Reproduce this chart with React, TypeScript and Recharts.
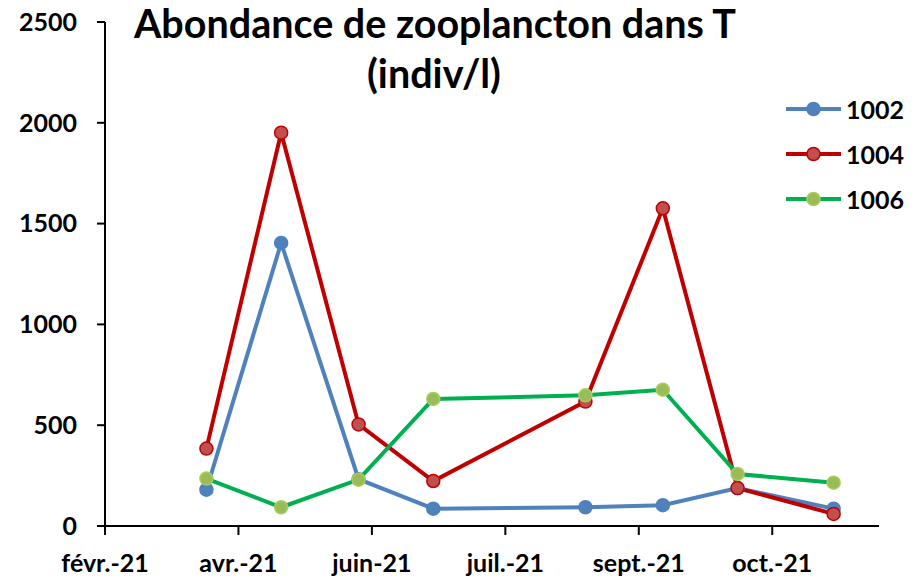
import { LineChart, Line, XAxis, YAxis } from "recharts";

const SAMPLE_DATES = [
  "2021-04-01",
  "2021-04-29",
  "2021-05-28",
  "2021-06-25",
  "2021-08-21",
  "2021-09-19",
  "2021-10-17",
  "2021-11-22",
];
const S1002 = [180, 1404, 232, 86, 93, 103, 188, 86];
const S1004 = [384, 1951, 504, 223, 617, 1576, 188, 60];
const S1006 = [235, 93, 230, 630, 648, 676, 258, 215];

const TICK_DATES = ["2021-02-22", "2021-04-13", "2021-06-02", "2021-07-22", "2021-09-10", "2021-10-30"];
const TICK_LABELS = ["févr.-21", "avr.-21", "juin-21", "juil.-21", "sept.-21", "oct.-21"];
const X_END = "2021-12-09";
const Y_TICKS = [0, 500, 1000, 1500, 2000, 2500];

const FONT = "Lato, 'Open Sans', sans-serif";

// day of year
const toDay = (s: string) => (Date.parse(s) - Date.parse("2021-01-01")) / 86400000 + 1;

const data = SAMPLE_DATES.map((d, i) => ({
  day: toDay(d),
  s1002: S1002[i],
  s1004: S1004[i],
  s1006: S1006[i],
}));

const tickDays = TICK_DATES.map(toDay);
const labelFor = (v: number) => TICK_LABELS[tickDays.indexOf(v)] ?? "";

const SERIES = [
  { key: "s1002", name: "1002", line: "#4F81BD", fill: "#4F81BD", edge: "#4F81BD" },
  { key: "s1004", name: "1004", line: "#C00000", fill: "#C0504D", edge: "#C00000" },
  { key: "s1006", name: "1006", line: "#00B050", fill: "#9BBB59", edge: "#A6CF5E" },
];

function ChartLegend() {
  return (
    <div style={{ position: "absolute", left: 786, top: 86.5, fontFamily: FONT }}>
      {SERIES.map((s) => (
        <div key={s.key} style={{ display: "flex", alignItems: "center", height: 45 }}>
          <svg width={55} height={20} style={{ display: "block" }}>
            <line x1={0} x2={55} y1={10} y2={10} stroke={s.line} strokeWidth={4} />
            <circle cx={27.5} cy={10} r={6.5} fill={s.fill} stroke={s.edge} strokeWidth={1.5} />
          </svg>
          <span style={{ marginLeft: 5, fontSize: 25, fontWeight: 700, color: "#000", lineHeight: 1 }}>
            {s.name}
          </span>
        </div>
      ))}
    </div>
  );
}

export default function App() {
  const tickStyle = { fontSize: 25, fontWeight: 700, fill: "#000", fontFamily: FONT };
  return (
    <div style={{ position: "absolute", left: 0, top: 0, width: 916, height: 580, background: "#fff" }}>
      <LineChart
        width={916}
        height={580}
        data={data}
        margin={{ top: 22, right: 37, bottom: 0, left: 0 }}
      >
        <XAxis
          dataKey="day"
          type="number"
          domain={[toDay(TICK_DATES[0]), toDay(X_END)]}
          ticks={tickDays}
          tickFormatter={labelFor}
          allowDataOverflow
          height={54}
          tickSize={9}
          tickMargin={19}
          stroke="#000"
          strokeWidth={2}
          tick={tickStyle}
          interval={0}
        />
        <YAxis
          type="number"
          domain={[0, 2500]}
          ticks={Y_TICKS}
          width={105}
          tickSize={8}
          tickMargin={20}
          stroke="#000"
          strokeWidth={2}
          tick={tickStyle}
          interval={0}
        />
        {SERIES.map((s) => (
          <Line
            key={s.key}
            dataKey={s.key}
            name={s.name}
            type="linear"
            stroke={s.line}
            strokeWidth={4}
            dot={{ r: 6.5, fill: s.fill, stroke: s.edge, strokeWidth: 1.5 }}
            activeDot={false}
            isAnimationActive={false}
          />
        ))}
      </LineChart>
      <ChartLegend />
      <svg
        width={916}
        height={110}
        style={{ position: "absolute", left: 0, top: 0, pointerEvents: "none" }}
      >
        <text x={435} y={38} textAnchor="middle" fontFamily={FONT} fontWeight={700} fontSize={39.5} fill="#000">
          Abondance de zooplancton dans T
        </text>
        <text x={434} y={88} textAnchor="middle" fontFamily={FONT} fontWeight={700} fontSize={39.5} fill="#000">
          (indiv/l)
        </text>
      </svg>
    </div>
  );
}
